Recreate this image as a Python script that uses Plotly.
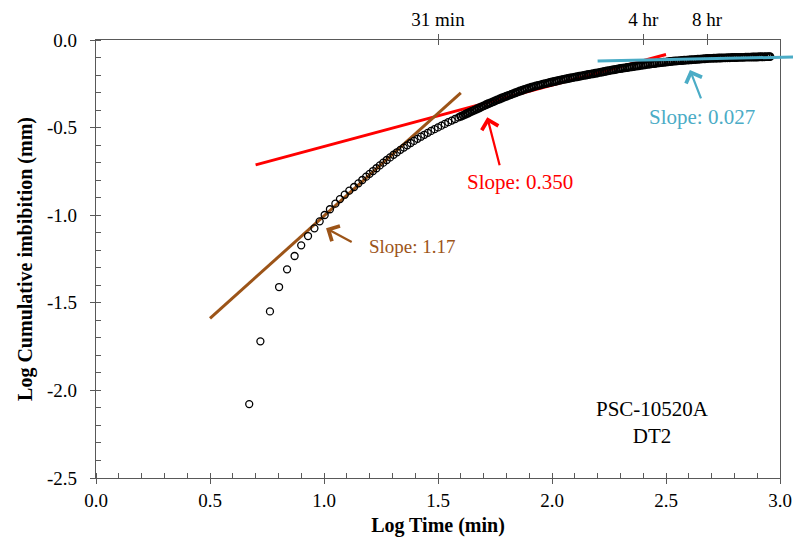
import plotly.graph_objects as go

# ---------------- data ----------------
log_time = [
    0.672, 0.721, 0.763, 0.803, 0.838, 0.871, 0.900, 0.930, 0.958, 0.981,
    1.003, 1.026, 1.050, 1.070, 1.091, 1.111, 1.132, 1.151, 1.168,
    1.185, 1.200, 1.215, 1.230, 1.245, 1.260, 1.275, 1.290, 1.305, 1.320,
    1.335, 1.350, 1.365, 1.380, 1.395, 1.410, 1.425, 1.440, 1.455, 1.470,
    1.485, 1.500, 1.515, 1.530, 1.545, 1.560, 1.575, 1.590, 1.600,
    1.61, 1.62, 1.63, 1.64, 1.65, 1.66, 1.67, 1.68, 1.69, 1.70,
    1.71, 1.72, 1.73, 1.74, 1.75, 1.76, 1.77, 1.78, 1.79, 1.80,
    1.81, 1.82, 1.83, 1.84, 1.85, 1.86, 1.87, 1.88, 1.89, 1.90,
    1.91, 1.92, 1.93, 1.94, 1.95, 1.96, 1.97, 1.98, 1.99, 2.00,
    2.01, 2.02, 2.03, 2.04, 2.05, 2.06, 2.07, 2.08, 2.09, 2.10,
    2.11, 2.12, 2.13, 2.14, 2.15, 2.16, 2.17, 2.18, 2.19, 2.20,
    2.21, 2.22, 2.23, 2.24, 2.25, 2.26, 2.27, 2.28, 2.29, 2.30,
    2.31, 2.32, 2.33, 2.34, 2.35, 2.36, 2.37, 2.38, 2.39, 2.40,
    2.41, 2.42, 2.43, 2.44, 2.45, 2.46, 2.47, 2.48, 2.49, 2.50,
    2.51, 2.52, 2.53, 2.54, 2.55, 2.56, 2.57, 2.58, 2.59, 2.60,
    2.61, 2.62, 2.63, 2.64, 2.65, 2.66, 2.67, 2.68, 2.69, 2.70,
    2.71, 2.72, 2.73, 2.74, 2.75, 2.76, 2.77, 2.78, 2.79, 2.80,
    2.81, 2.82, 2.83, 2.84, 2.85, 2.86, 2.87, 2.88, 2.89, 2.90,
    2.91, 2.92, 2.93, 2.94, 2.95, 2.956,
]
log_imbibition = [
    -2.078, -1.720, -1.549, -1.410, -1.309, -1.233, -1.172, -1.119, -1.075, -1.035,
    -0.999, -0.966, -0.934, -0.908, -0.883, -0.860, -0.839, -0.818, -0.799,
    -0.780, -0.764, -0.748, -0.732, -0.716, -0.700, -0.685, -0.670, -0.655, -0.641,
    -0.627, -0.614, -0.601, -0.588, -0.576, -0.564, -0.552, -0.541, -0.530, -0.519,
    -0.509, -0.499, -0.489, -0.479, -0.469, -0.460, -0.451, -0.442, -0.436,
    -0.430, -0.424, -0.418, -0.412, -0.406, -0.400, -0.394, -0.388, -0.382, -0.376,
    -0.370, -0.364, -0.359, -0.353, -0.348, -0.342, -0.337, -0.331, -0.326, -0.321,
    -0.316, -0.311, -0.306, -0.301, -0.296, -0.291, -0.287, -0.282, -0.278, -0.274,
    -0.270, -0.266, -0.262, -0.259, -0.256, -0.252, -0.249, -0.246, -0.243, -0.240,
    -0.237, -0.234, -0.231, -0.228, -0.225, -0.223, -0.220, -0.217, -0.215, -0.212,
    -0.210, -0.207, -0.205, -0.202, -0.200, -0.197, -0.195, -0.193, -0.190, -0.188,
    -0.185, -0.183, -0.180, -0.177, -0.175, -0.172, -0.170, -0.168, -0.165, -0.163,
    -0.161, -0.159, -0.157, -0.155, -0.153, -0.151, -0.149, -0.147, -0.145, -0.143,
    -0.141, -0.139, -0.137, -0.135, -0.134, -0.132, -0.130, -0.129, -0.127, -0.126,
    -0.124, -0.123, -0.121, -0.120, -0.119, -0.118, -0.117, -0.116, -0.115, -0.114,
    -0.113, -0.112, -0.111, -0.110, -0.109, -0.108, -0.107, -0.106, -0.105, -0.105,
    -0.104, -0.104, -0.103, -0.103, -0.102, -0.102, -0.101, -0.101, -0.100, -0.100,
    -0.100, -0.099, -0.099, -0.099, -0.098, -0.098, -0.098, -0.097, -0.097, -0.097,
    -0.096, -0.096, -0.096, -0.095, -0.095, -0.095,
]

# slope (tangent) lines: end points
slope_117_x = [0.50, 1.60]
slope_117_y = [-1.589, -0.302]
slope_350_x = [0.70, 2.50]
slope_350_y = [-0.713, -0.083]
slope_027_x = [2.20, 3.066]
slope_027_y = [-0.120, -0.097]

# tick labels
x_tick_vals = [0.0, 0.5, 1.0, 1.5, 2.0, 2.5, 3.0]
x_tick_text = ["0.0", "0.5", "1.0", "1.5", "2.0", "2.5", "3.0"]
y_tick_vals = [0.0, -0.5, -1.0, -1.5, -2.0, -2.5]
y_tick_text = ["0.0", "-0.5", "-1.0", "-1.5", "-2.0", "-2.5"]
top_tick_vals = [1.50, 2.40, 2.68]
top_tick_text = ["31 min", "4 hr", "8 hr"]

# ---------------- styling ----------------
FONT = "Liberation Serif"
AX = "#595959"
RED = "#FF0000"
BROWN = "#9C5418"
CYAN = "#4BACC6"

# the page body adds an 8 px offset, margins compensate for it
W, H = 801, 545
ML, MR, MT, MB = 88, 13, 32, 75
plot_w = W - ML - MR
frame_w = 684  # frame width of x in [0, 3]
main_dom = frame_w / plot_w
wide_range = 3.0 * plot_w / frame_w

# thicker outlines where the measured points crowd together
marker_widths = [1.3 if t < 1.6 else 1.9 for t in log_time]

fig = go.Figure()

# cyan tangent line on a wider hidden x axis so it may run past the frame
fig.add_trace(go.Scatter(x=slope_027_x, y=slope_027_y, mode="lines",
                         line=dict(color=CYAN, width=3), xaxis="x4", yaxis="y",
                         hoverinfo="skip", showlegend=False))
fig.add_trace(go.Scatter(x=slope_350_x, y=slope_350_y, mode="lines",
                         line=dict(color=RED, width=3), hoverinfo="skip",
                         showlegend=False))
fig.add_trace(go.Scatter(x=slope_117_x, y=slope_117_y, mode="lines",
                         line=dict(color=BROWN, width=3), hoverinfo="skip",
                         showlegend=False))
fig.add_trace(go.Scatter(x=log_time, y=log_imbibition, mode="markers",
                         marker=dict(symbol="circle-open", size=7, color="black",
                                     line=dict(width=marker_widths)),
                         showlegend=False))
# dummy traces so the top axes render
fig.add_trace(go.Scatter(x=[1.5], y=[None], xaxis="x2", showlegend=False, hoverinfo="skip"))
fig.add_trace(go.Scatter(x=[1.5], y=[None], xaxis="x3", showlegend=False, hoverinfo="skip"))

tickfont = dict(family=FONT, size=19, color="black")

fig.update_layout(
    width=W, height=H,
    margin=dict(l=ML, r=MR, t=MT, b=MB, autoexpand=False),
    paper_bgcolor="white",
    plot_bgcolor="rgba(0,0,0,0)",
    font=dict(family=FONT, color="black"),
    showlegend=False,
    xaxis=dict(
        domain=[0, main_dom], range=[0, 3.0], showgrid=False, zeroline=False,
        automargin=False,
        showline=True, linecolor=AX, linewidth=1.3, mirror=True,
        tickmode="array", tickvals=x_tick_vals, ticktext=x_tick_text,
        ticks="outside", ticklen=5, tickcolor=AX, tickwidth=1,
        tickfont=tickfont,
        minor=dict(ticks="inside", ticklen=5, dtick=0.1, tickcolor=AX, showgrid=False),
        title=dict(text="<b>Log Time (min)</b>", font=dict(family=FONT, size=20),
                   standoff=8),
    ),
    xaxis2=dict(
        overlaying="x", side="top", anchor="y", range=[0, 3.0], automargin=False,
        showgrid=False, zeroline=False, showline=False,
        tickmode="array", tickvals=top_tick_vals, ticktext=top_tick_text,
        ticks="outside", ticklen=5, tickcolor=AX, tickwidth=1, tickfont=tickfont,
    ),
    xaxis3=dict(
        overlaying="x", side="top", anchor="y", range=[0, 3.0], automargin=False,
        showgrid=False, zeroline=False, showline=False, showticklabels=False,
        tickmode="array", tickvals=top_tick_vals,
        ticks="inside", ticklen=5, tickcolor=AX, tickwidth=1,
    ),
    xaxis4=dict(
        domain=[0, 1], anchor="y", range=[0, wide_range], visible=False,
    ),
    yaxis=dict(
        range=[-2.5, 0.0], showgrid=False, zeroline=False, automargin=False,
        showline=True, linecolor=AX, linewidth=1.3, mirror=True,
        tickmode="array", tickvals=y_tick_vals, ticktext=y_tick_text,
        ticks="outside", ticklen=5, tickcolor=AX, tickwidth=1,
        tickfont=tickfont, ticklabelstandoff=9,
        minor=dict(ticks="inside", ticklen=5, dtick=0.1, tickcolor=AX, showgrid=False),
        title=dict(text="<b>Log Cumulative imbibition (mm)</b>",
                   font=dict(family=FONT, size=20), standoff=8),
    ),
)

# arrows (head at x,y ; tail at ax,ay)
arrows = [
    (1.009, -1.075, 1.128, -1.157, BROWN),
    (1.716, -0.441, 1.772, -0.723, RED),
    (2.605, -0.171, 2.656, -0.342, CYAN),
]
for hx, hy, tx, ty, col in arrows:
    fig.add_annotation(x=hx, y=hy, ax=tx, ay=ty, xref="x", yref="y",
                       axref="x", ayref="y", text="", showarrow=True,
                       arrowhead=4, arrowsize=1.5, arrowwidth=2.2,
                       arrowcolor=col, standoff=0, startstandoff=0)

labels = [
    ("Slope: 1.17", 1.39, -1.176, BROWN, 19),
    ("Slope: 0.350", 1.86, -0.81, RED, 21),
    ("Slope: 0.027", 2.66, -0.44, CYAN, 21),
    ("PSC-10520A<br>DT2", 2.439, -2.186, "black", 21),
]
for txt, x, y, col, sz in labels:
    fig.add_annotation(x=x, y=y, xref="x", yref="y", text=txt, showarrow=False,
                       font=dict(family=FONT, size=sz, color=col),
                       xanchor="center", yanchor="middle")

fig.write_html("out.html")
